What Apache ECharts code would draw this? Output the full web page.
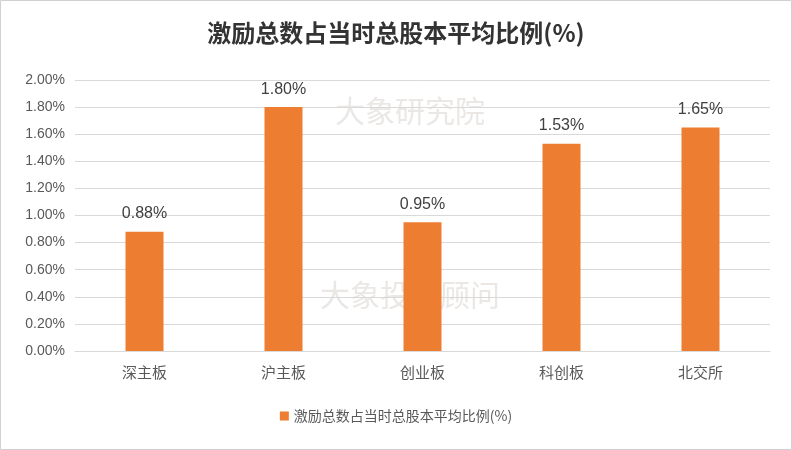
<!DOCTYPE html>
<html><head><meta charset="utf-8">
<script src="https://cdn.jsdelivr.net/npm/echarts@6/dist/echarts.min.js"></script>
<style>html,body{margin:0;padding:0;background:#fff}#c{width:792px;height:450px}</style>
</head><body><div id="c"></div>
<script>
const categories = ['深主板','沪主板','创业板','科创板','北交所'];
const values = [0.88, 1.80, 0.95, 1.53, 1.65];
const seriesName = '激励总数占当时总股本平均比例(%)';
const title = '激励总数占当时总股本平均比例(%)';
const chart = echarts.init(document.getElementById('c'));
chart.setOption({
  animation:false,
  title:{text:title,left:'center',top:16,textStyle:{fontFamily:'Noto Sans CJK SC',fontSize:24,fontWeight:'bold',color:'#333'}},
  graphic:[
    {type:'rect',z:-10,shape:{x:0.5,y:0.5,width:791,height:449},style:{fill:'none',stroke:'#d0d0d0'}},
    {type:'text',z:-10,left:335,top:96,style:{text:'大象研究院',font:'30px "Noto Sans CJK SC"',fill:'rgba(170,160,150,0.25)'}},
    {type:'text',z:-10,left:320,top:280,style:{text:'大象投资顾问',font:'30px "Noto Sans CJK SC"',fill:'rgba(170,160,150,0.25)'}}
  ],
  legend:{bottom:22,itemWidth:9,itemHeight:9,icon:'rect',textStyle:{fontFamily:'Noto Sans CJK SC',fontSize:14,color:'#595959'},data:[seriesName]},
  grid:{left:75,right:22,top:80,bottom:99},
  xAxis:{type:'category',data:categories,axisTick:{show:false},axisLine:{lineStyle:{color:'#d9d9d9'}},
    axisLabel:{fontFamily:'Noto Sans CJK SC',fontSize:15,color:'#595959',margin:14}},
  yAxis:{type:'value',min:0,max:2,interval:0.2,
    axisLabel:{formatter:v=>v.toFixed(2)+'%',fontFamily:'Liberation Sans',fontSize:14,color:'#595959',margin:10},
    splitLine:{lineStyle:{color:'#d9d9d9'}}},
  series:[{name:seriesName,type:'bar',data:values,barWidth:38,itemStyle:{color:'#ED7D31'},
    label:{show:true,position:'top',distance:10,formatter:p=>p.value.toFixed(2)+'%',fontFamily:'Liberation Sans',fontSize:16,color:'#404040'}}]
});
</script></body></html>
